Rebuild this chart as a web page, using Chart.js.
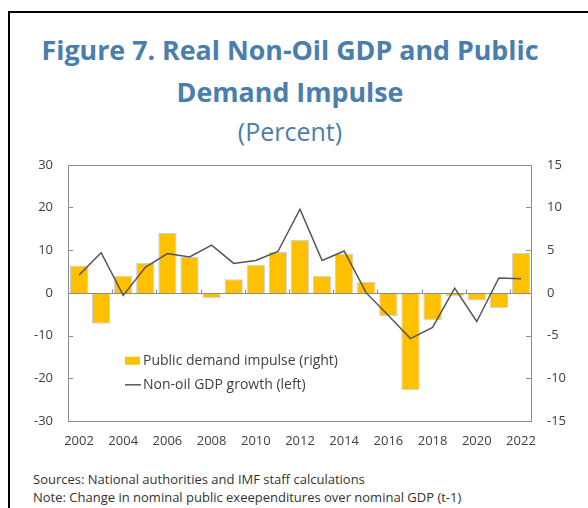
<!DOCTYPE html>
<html>
<head>
<meta charset="utf-8">
<script src="https://cdn.jsdelivr.net/npm/chart.js@4/dist/chart.umd.min.js"></script>
<style>
  body { margin: 0; width: 588px; height: 508px; position: relative; overflow: hidden; background: #fff; font-family: "Open Sans", sans-serif; }
  .frame { position: absolute; left: 8px; top: 11px; right: 0; bottom: 0; border-left: 2px solid #000; border-top: 2px solid #000; }
  .title { position: absolute; left: 0; width: 580px; text-align: center; color: #4a7eac; white-space: nowrap; }
  #t1 { top: 34px; font-size: 26.8px; line-height: 32px; font-weight: 700; }
  #t2 { top: 76px; font-size: 26.8px; line-height: 32px; font-weight: 700; }
  #t3 { top: 116px; font-size: 25px; line-height: 30px; }
  .note { position: absolute; left: 33px; font-size: 13px; line-height: 18px; color: #333; white-space: nowrap; }
  #box { position: absolute; left: 0; top: 142px; width: 588px; height: 308px; }
</style>
</head>
<body>
<div class="frame"></div>
<div class="title" id="t1">Figure 7. Real Non-Oil GDP and Public</div>
<div class="title" id="t2">Demand Impulse</div>
<div class="title" id="t3">(Percent)</div>
<div id="box"><canvas id="grafico"></canvas></div>
<div class="note" style="top:470px">Sources: National authorities and IMF staff calculations</div>
<div class="note" style="top:488px">Note: Change in nominal public exeependitures over nominal GDP (t-1)</div>

<script>
// ===============================
// DADOS
// ===============================

const anos = ["2002", "2003", "2004", "2005", "2006", "2007", "2008", "2009", "2010", "2011",
              "2012", "2013", "2014", "2015", "2016", "2017", "2018", "2019", "2020", "2021", "2022"];

// public demand impulse (right axis)
const impulso = [3.2, -3.6, 2.0, 3.5, 7.0, 4.2, -0.6, 1.6, 3.3, 4.8,
                 6.2, 2.0, 4.6, 1.3, -2.7, -11.4, -3.2, -0.4, -0.9, -1.8, 4.7];

// non-oil GDP growth (left axis)
const crescimento = [4.2, 9.4, -0.6, 6.0, 9.2, 8.4, 11.2, 6.9, 7.6, 9.7,
                     19.6, 7.6, 9.8, 0.0, -5.3, -10.7, -8.1, 1.1, -6.7, 3.5, 3.3];

const anosVisiveis = ["2002", "2004", "2006", "2008", "2010", "2012", "2014", "2016", "2018", "2020", "2022"];

const rotulos = ["Public demand impulse (right)", "Non-oil GDP growth (left)"];

// ===============================
// PLUGIN: moldura, eixo zero, ticks internos, legenda
// ===============================

const corEixo = "#8c8c8c";
const corTexto = "#404040";

const molduraPlugin = {
    id: "moldura",
    afterDatasetDraw(chart, args) {
        if (args.index !== 1) return;
        const { ctx, chartArea, scales } = chart;
        const y0 = Math.round(scales.y.getPixelForValue(0)) + 0.5;
        ctx.save();
        ctx.strokeStyle = corEixo;
        ctx.lineWidth = 1;
        ctx.beginPath();
        ctx.moveTo(chartArea.left, y0);
        ctx.lineTo(chartArea.right, y0);
        // ticks every 2 categories on the zero line
        for (let i = 2; i < anos.length; i += 2) {
            const xs = Math.round((scales.x.getPixelForValue(i - 1) + scales.x.getPixelForValue(i)) / 2) + 0.5;
            ctx.moveTo(xs, y0);
            ctx.lineTo(xs, y0 - 4);
        }
        ctx.stroke();
        ctx.restore();
    },
    afterDraw(chart) {
        const { ctx, chartArea, scales } = chart;
        const a = chartArea;
        ctx.save();
        ctx.strokeStyle = corEixo;
        ctx.lineWidth = 1;
        ctx.strokeRect(Math.round(a.left) + 0.5, Math.round(a.top) + 0.5,
                       Math.round(a.right - a.left) - 1, Math.round(a.bottom - a.top));
        ctx.beginPath();
        scales.y.ticks.forEach(t => {
            const yy = Math.round(scales.y.getPixelForValue(t.value)) + 0.5;
            ctx.moveTo(a.left, yy);
            ctx.lineTo(a.left + 5, yy);
        });
        scales.y1.ticks.forEach(t => {
            const yy = Math.round(scales.y1.getPixelForValue(t.value)) + 0.5;
            ctx.moveTo(a.right - 1, yy);
            ctx.lineTo(a.right - 6, yy);
        });
        ctx.stroke();

        // legenda
        const lx = a.left + 57;
        const ly = a.top + 196;
        ctx.font = "14px 'Open Sans'";
        ctx.fillStyle = corTexto;
        ctx.textBaseline = "middle";
        ctx.fillText(rotulos[0], lx + 18, ly);
        ctx.fillText(rotulos[1], lx + 18, ly + 24);
        ctx.fillStyle = "#ffc000";
        ctx.fillRect(lx, ly - 4, 15, 8);
        ctx.strokeStyle = "#5a5a5a";
        ctx.lineWidth = 1.5;
        ctx.beginPath();
        ctx.moveTo(lx, ly + 24);
        ctx.lineTo(lx + 16, ly + 24);
        ctx.stroke();
        ctx.restore();
    }
};

// ===============================
// GRÁFICO
// ===============================

const fonteTicks = { family: "'Open Sans'", size: 13 };

new Chart(document.getElementById("grafico"), {
    data: {
        labels: anos,
        datasets: [
            {
                type: "line",
                label: rotulos[1],
                data: crescimento,
                yAxisID: "y",
                borderColor: "#555555",
                borderWidth: 1.5,
                pointRadius: 0,
                tension: 0
            },
            {
                type: "bar",
                label: rotulos[0],
                data: impulso,
                yAxisID: "y1",
                backgroundColor: "#ffc000",
                borderColor: "#c5d3e6",
                borderWidth: 1,
                categoryPercentage: 1,
                barPercentage: 0.83
            }
        ]
    },
    options: {
        responsive: true,
        maintainAspectRatio: false,
        animation: false,
        layout: { padding: { top: 17, left: 0, right: 0, bottom: 0 } },
        plugins: { legend: { display: false }, tooltip: { enabled: false } },
        scales: {
            x: {
                type: "category",
                offset: true,
                grid: { display: false, drawTicks: false },
                border: { display: false },
                ticks: {
                    autoSkip: false,
                    maxRotation: 0,
                    padding: 12,
                    color: corTexto,
                    font: fonteTicks,
                    callback(v) {
                        const l = this.getLabelForValue(v);
                        return anosVisiveis.includes(l) ? l : "";
                    }
                },
                afterFit(s) { s.height = 29; }
            },
            y: {
                position: "left",
                min: -30,
                max: 30,
                grid: { display: false, drawTicks: false },
                border: { display: false },
                ticks: { stepSize: 10, padding: 15, color: corTexto, font: fonteTicks },
                afterFit(s) { s.width = 68; }
            },
            y1: {
                position: "right",
                min: -15,
                max: 15,
                grid: { display: false, drawTicks: false },
                border: { display: false },
                ticks: { stepSize: 5, padding: 15, color: corTexto, font: fonteTicks },
                afterFit(s) { s.width = 56; }
            }
        }
    },
    plugins: [molduraPlugin]
});
</script>
</body>
</html>
